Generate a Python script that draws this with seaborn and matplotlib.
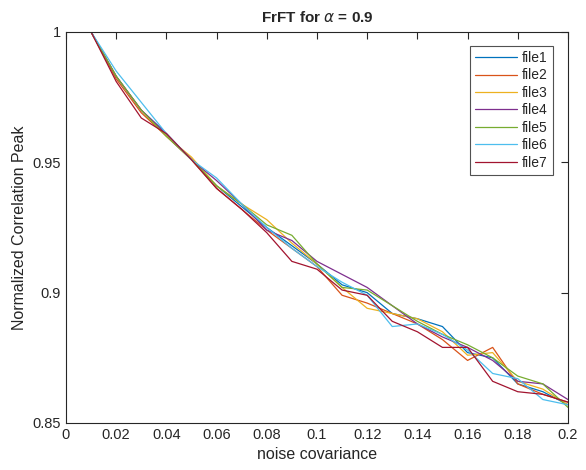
import numpy as np
import pandas as pd
import matplotlib
matplotlib.use("Agg")
import matplotlib.pyplot as plt
import seaborn as sns

# noise covariance values
noise = [0.01, 0.02, 0.03, 0.04, 0.05, 0.06, 0.07, 0.08, 0.09, 0.10,
         0.11, 0.12, 0.13, 0.14, 0.15, 0.16, 0.17, 0.18, 0.19, 0.20]

# normalized correlation peak per file
file1 = [1.0, 0.983, 0.970, 0.961, 0.951, 0.941, 0.933, 0.925, 0.918, 0.911,
         0.903, 0.900, 0.892, 0.890, 0.887, 0.877, 0.875, 0.865, 0.862, 0.857]
file2 = [1.0, 0.982, 0.969, 0.960, 0.951, 0.940, 0.932, 0.924, 0.917, 0.910,
         0.899, 0.896, 0.892, 0.888, 0.882, 0.874, 0.879, 0.865, 0.861, 0.858]
file3 = [1.0, 0.983, 0.970, 0.960, 0.952, 0.941, 0.934, 0.928, 0.919, 0.911,
         0.902, 0.894, 0.892, 0.890, 0.885, 0.876, 0.877, 0.866, 0.863, 0.857]
file4 = [1.0, 0.983, 0.970, 0.961, 0.951, 0.943, 0.934, 0.924, 0.920, 0.912,
         0.907, 0.902, 0.895, 0.888, 0.883, 0.879, 0.874, 0.866, 0.865, 0.859]
file5 = [1.0, 0.983, 0.970, 0.960, 0.951, 0.941, 0.934, 0.926, 0.922, 0.911,
         0.902, 0.901, 0.895, 0.889, 0.884, 0.880, 0.875, 0.868, 0.865, 0.856]
file6 = [1.0, 0.985, 0.973, 0.961, 0.951, 0.944, 0.934, 0.925, 0.917, 0.910,
         0.904, 0.899, 0.887, 0.888, 0.884, 0.878, 0.869, 0.867, 0.859, 0.857]
file7 = [1.0, 0.981, 0.967, 0.961, 0.951, 0.940, 0.932, 0.923, 0.912, 0.909,
         0.901, 0.899, 0.889, 0.885, 0.879, 0.879, 0.866, 0.862, 0.861, 0.858]

names = ["file1", "file2", "file3", "file4", "file5", "file6", "file7"]
series = [file1, file2, file3, file4, file5, file6, file7]
colors = ["#0072BD", "#D95319", "#EDB120", "#7E2F8E", "#77AC30", "#4DBEEE", "#A2142F"]

df = pd.concat([pd.DataFrame({"noise": noise, "peak": s, "file": n})
                for n, s in zip(names, series)], ignore_index=True)

sns.set_style("white")
plt.rcParams["font.family"] = ["Liberation Sans", "DejaVu Sans"]
plt.rcParams["mathtext.fontset"] = "dejavusans"

fig = plt.figure(figsize=(5.86, 4.70), dpi=100)
ax = fig.add_axes([0.1126, 0.1, 0.8566, 0.832])

sns.lineplot(data=df, x="noise", y="peak", hue="file", palette=colors,
             linewidth=0.9, ax=ax)

ax.set_xlim(0, 0.2)
ax.set_ylim(0.85, 1.0)
ax.set_xticks(np.arange(0, 0.201, 0.02))
ax.set_xticklabels(["0", "0.02", "0.04", "0.06", "0.08", "0.1", "0.12",
                    "0.14", "0.16", "0.18", "0.2"])
ax.set_yticks([0.85, 0.9, 0.95, 1.0])
ax.set_yticklabels(["0.85", "0.9", "0.95", "1"])
ax.tick_params(direction="in", top=True, right=True, length=5, width=0.8,
               labelsize=10.5, colors="#262626")
for sp in ax.spines.values():
    sp.set_color("#262626")
    sp.set_linewidth(0.8)

ax.set_xlabel("noise covariance", fontsize=11.5, color="#262626")
ax.set_ylabel("Normalized Correlation Peak", fontsize=11.5, color="#262626")
ax.set_title(r"FrFT for $\alpha$ = 0.9", fontsize=11, fontweight="bold", pad=7)

leg = ax.legend(loc="upper right", bbox_to_anchor=(0.970, 0.964), fontsize=10,
                frameon=True, fancybox=False, handlelength=3.0,
                borderaxespad=0, borderpad=0.35, labelspacing=0.25,
                handletextpad=0.4)
leg.get_frame().set_edgecolor("#262626")
leg.get_frame().set_linewidth(0.8)

fig.savefig("out.png", dpi=100)
